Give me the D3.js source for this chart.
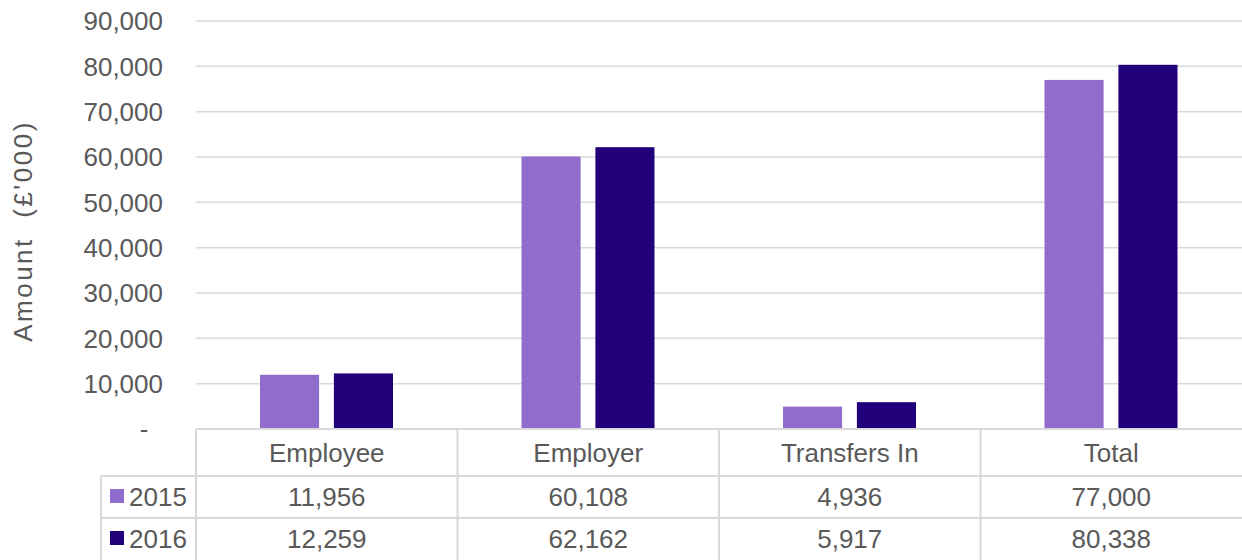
<!DOCTYPE html>
<html>
<head>
<meta charset="utf-8">
<script src="https://cdn.jsdelivr.net/npm/d3@7"></script>
<style>
  html, body { margin: 0; padding: 0; background: #fff; }
  svg { display: block; font-family: "Liberation Sans", Arial, sans-serif; }
</style>
</head>
<body>
<svg id="chart" width="1242" height="560"></svg>
<script>
// data
var categories = ["Employee", "Employer", "Transfers In", "Total"];
var years = ["2015", "2016"];
var values2015 = [11956, 60108, 4936, 77000];
var values2016 = [12259, 62162, 5917, 80338];
var yTicks = [0, 10000, 20000, 30000, 40000, 50000, 60000, 70000, 80000, 90000];
var colors = ["#906ccc", "#22007b"];

var W = 1242, H = 560;
var m = { left: 196, right: 1242, top: 21, bottom: 429 };
var rowY = [429, 476, 518, 560];
var textColor = "#595959";
var gridColor = "#d9d9d9";

var svg = d3.select("#chart");
var series = [values2015, values2016];

var x = d3.scaleBand().domain(categories).range([m.left, m.right]);
var xs = d3.scaleBand().domain(years).range([64, 197]).paddingInner(0.2);
var y = d3.scaleLinear().domain([0, 90000]).range([m.bottom, m.top]);

var fmt = d3.format(",");

// gridlines
svg.append("g").selectAll("line")
  .data(yTicks.filter(function (d) { return d > 0; }))
  .enter().append("line")
  .attr("x1", m.left).attr("x2", m.right)
  .attr("y1", function (d) { return y(d); })
  .attr("y2", function (d) { return y(d); })
  .attr("stroke", gridColor).attr("stroke-width", 1.5);

// y tick labels
svg.append("g").selectAll("text")
  .data(yTicks)
  .enter().append("text")
  .attr("x", function (d) { return d === 0 ? 144 : 163; })
  .attr("y", function (d) { return y(d); })
  .attr("dy", "0.36em")
  .attr("text-anchor", function (d) { return d === 0 ? "middle" : "end"; })
  .attr("font-size", 26)
  .attr("fill", textColor)
  .text(function (d) { return d === 0 ? "-" : fmt(d); });

// y axis title
svg.append("text")
  .attr("transform", "translate(32," + ((120 + 342) / 2) + ") rotate(-90)")
  .attr("text-anchor", "middle")
  .attr("font-size", 26)
  .attr("letter-spacing", 2.5)
  .attr("fill", textColor)
  .attr("xml:space", "preserve")
  .text("Amount  (£'000)");

// bars
years.forEach(function (yr, si) {
  svg.append("g").selectAll("rect")
    .data(series[si])
    .enter().append("rect")
    .attr("x", function (d, i) { return x(categories[i]) + xs(yr); })
    .attr("width", xs.bandwidth())
    .attr("y", function (d) { return y(d); })
    .attr("height", function (d) { return m.bottom - y(d); })
    .attr("fill", colors[si]);
});

// data table
var tbl = svg.append("g").attr("stroke", gridColor).attr("stroke-width", 2);
tbl.append("line").attr("x1", m.left).attr("x2", m.right).attr("y1", rowY[0]).attr("y2", rowY[0]);
tbl.append("line").attr("x1", 101).attr("x2", m.right).attr("y1", rowY[1]).attr("y2", rowY[1]);
tbl.append("line").attr("x1", 101).attr("x2", m.right).attr("y1", rowY[2]).attr("y2", rowY[2]);
tbl.append("line").attr("x1", 101).attr("x2", 101).attr("y1", rowY[1]).attr("y2", H);
tbl.selectAll(".vl")
  .data(categories)
  .enter().append("line")
  .attr("x1", function (d) { return x(d); })
  .attr("x2", function (d) { return x(d); })
  .attr("y1", rowY[0]).attr("y2", H);

// header row
svg.append("g").selectAll("text")
  .data(categories)
  .enter().append("text")
  .attr("x", function (d) { return x(d) + x.bandwidth() / 2; })
  .attr("y", (rowY[0] + rowY[1]) / 2)
  .attr("dy", "0.36em")
  .attr("text-anchor", "middle")
  .attr("font-size", 26)
  .attr("fill", textColor)
  .text(function (d) { return d; });

// value rows
years.forEach(function (yr, si) {
  var cy = (rowY[si + 1] + rowY[si + 2]) / 2;
  var g = svg.append("g");
  g.append("rect")
    .attr("x", 110).attr("y", cy - 8)
    .attr("width", 14).attr("height", 14)
    .attr("fill", colors[si]);
  g.append("text")
    .attr("x", 129).attr("y", cy)
    .attr("dy", "0.36em")
    .attr("font-size", 26)
    .attr("fill", textColor)
    .text(yr);
  g.selectAll(".v")
    .data(series[si])
    .enter().append("text")
    .attr("x", function (d, i) { return x(categories[i]) + x.bandwidth() / 2; })
    .attr("y", cy)
    .attr("dy", "0.36em")
    .attr("text-anchor", "middle")
    .attr("font-size", 26)
    .attr("fill", textColor)
    .text(function (d) { return fmt(d); });
});
</script>
</body>
</html>
